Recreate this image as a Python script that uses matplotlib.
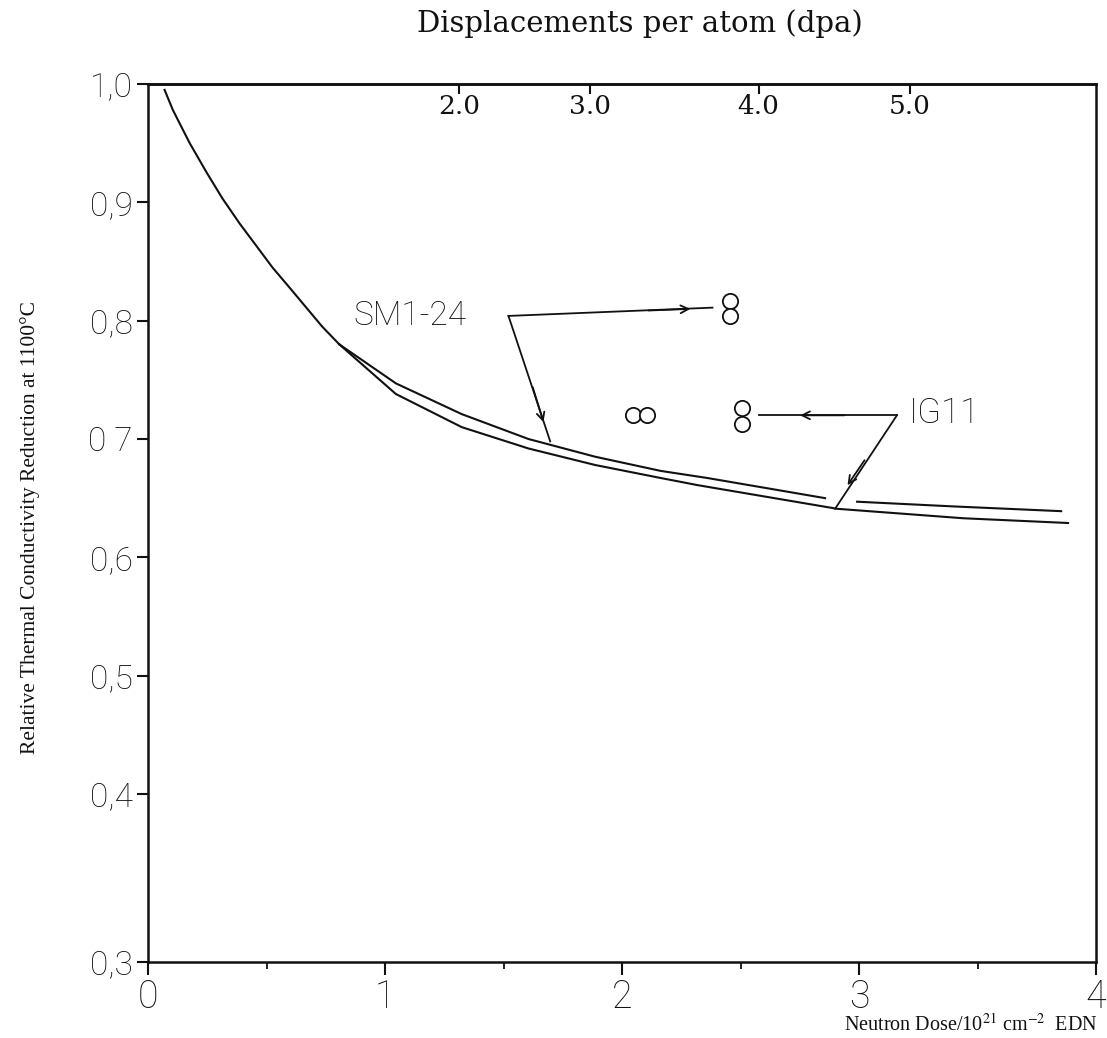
import numpy as np
import matplotlib
matplotlib.use("Agg")
import matplotlib.pyplot as plt

plt.rcParams["mathtext.fontset"] = "stix"

# Gemeinsamer Anfang beider Kurven (Dosis in 1e21 cm^-2, relative Leitfaehigkeit)
common_dose = [0.07, 0.105, 0.176, 0.248, 0.315, 0.387, 0.458, 0.525, 0.597, 0.668, 0.735, 0.807]
common_k = [0.995, 0.978, 0.950, 0.925, 0.903, 0.882, 0.863, 0.845, 0.828, 0.811, 0.795, 0.780]

# SM1-24 (obere Kurve), mit Luecke wo der IG11-Pfeil durchgeht
sm1_dose_a = [0.807, 1.046, 1.324, 1.605, 1.887, 2.164, 2.361, 2.857]
sm1_k_a = [0.780, 0.747, 0.721, 0.700, 0.685, 0.673, 0.667, 0.650]
sm1_dose_b = [2.992, 3.40, 3.853]
sm1_k_b = [0.647, 0.643, 0.639]

# IG11 (untere Kurve)
ig11_dose = [0.807, 1.046, 1.324, 1.605, 1.887, 2.164, 2.319, 2.908, 3.441, 3.882]
ig11_k = [0.780, 0.738, 0.710, 0.692, 0.678, 0.667, 0.661, 0.641, 0.633, 0.629]

# Einzelne Messpunkte (Kreise)
pts_dose = [2.046, 2.105, 2.508, 2.508, 2.454, 2.454]
pts_k = [0.720, 0.720, 0.726, 0.713, 0.817, 0.804]

# Achsenbeschriftungen
y_ticks = [0.3, 0.4, 0.5, 0.6, 0.7, 0.8, 0.9, 1.0]
y_labels = ["0,3", "0,4", "0,5", "0,6", "0 7", "0,8", "0,9", "1,0"]
x_ticks = [0, 1, 2, 3, 4]
dpa_ticks = [2.0, 3.0, 4.0, 5.0]
dpa_at_dose = [1.311, 1.866, 2.576, 3.214]

# Handgezeichnete Skala: 0,3..0,4 ist gestreckt
LOW_STRETCH = 1.42

def y_fwd(y):
    y = np.asarray(y, dtype=float)
    return np.where(y >= 0.4, y, 0.4 - (0.4 - y) * LOW_STRETCH)

def y_inv(v):
    v = np.asarray(v, dtype=float)
    return np.where(v >= 0.4, v, 0.4 - (0.4 - v) / LOW_STRETCH)

map_dose = [0.0] + dpa_at_dose + [4.0]
map_dpa = [0.0] + dpa_ticks + [6.2]

def to_dpa(x):
    return np.interp(x, map_dose, map_dpa)

def to_dose(d):
    return np.interp(d, map_dpa, map_dose)


fig = plt.figure(figsize=(11.07, 10.38), dpi=100)
ax = fig.add_axes([148 / 1107, 76 / 1038, (1096 - 148) / 1107, (962 - 84) / 1038])
ax.set_yscale("function", functions=(y_fwd, y_inv))
ax.set_xlim(0, 4)
ax.set_ylim(0.3, 1.0)

ink = "#111111"
plot_font = dict(family=["Roboto", "DejaVu Sans"], weight="light")

for side in ax.spines:
    ax.spines[side].set_linewidth(1.8)
    ax.spines[side].set_color(ink)

ax.plot(common_dose, common_k, color=ink, lw=1.5)
ax.plot(sm1_dose_a, sm1_k_a, color=ink, lw=1.5)
ax.plot(sm1_dose_b, sm1_k_b, color=ink, lw=1.5)
ax.plot(ig11_dose, ig11_k, color=ink, lw=1.5)
ax.plot(pts_dose, pts_k, ls="none", marker="o", ms=11, mfc="white", mec=ink, mew=1.3)

# Ticks
ax.set_yticks(y_ticks)
ax.set_yticklabels(y_labels, fontsize=24, **plot_font)
ax.set_yticks([], minor=True)
ax.set_xticks(x_ticks)
ax.set_xticklabels([str(t) for t in x_ticks], fontsize=27, **plot_font)
ax.set_xticks([0.5, 1.5, 2.5, 3.5], minor=True)
ax.tick_params(axis="y", which="major", direction="out", length=8, width=1.5, pad=3, colors=ink)
ax.tick_params(axis="x", which="major", direction="out", length=9, width=1.5, pad=3, colors=ink)
ax.tick_params(axis="x", which="minor", direction="out", length=5, width=1.3, colors=ink)

top = ax.secondary_xaxis("top", functions=(to_dpa, to_dose))
top.set_xticks(dpa_ticks)
top.set_xticklabels([f"{d:.1f}" for d in dpa_ticks], fontsize=19, family="DejaVu Serif")
top.tick_params(axis="x", direction="in", length=7, width=1.5, pad=-25, colors=ink)
top.spines["top"].set_linewidth(1.8)

# Beschriftungen
fig.text(640 / 1107, 1 - 24 / 1038, "Displacements per atom (dpa)", ha="center", va="center",
         fontsize=21, family="DejaVu Serif", color=ink)
fig.text(30 / 1107, 1 - 527 / 1038, "Relative Thermal Conductivity Reduction at 1100°C",
         rotation=90, ha="center", va="center", fontsize=15.5, family="Liberation Serif", color=ink)
fig.text(1098 / 1107, 1 - 1025 / 1038, r"Neutron Dose/10$^{21}$ cm$^{-2}$  EDN", ha="right",
         va="center", fontsize=14.5, family="Liberation Serif", color=ink)

# SM1-24 Zuordnung
ax.text(1.105, 0.804, "SM1-24", ha="center", va="center", fontsize=24, color=ink, **plot_font)
ax.plot([1.521, 2.382], [0.804, 0.811], color=ink, lw=1.3)
ax.plot([1.521, 1.697], [0.804, 0.698], color=ink, lw=1.3)
ax.annotate("", xy=(2.30, 0.810), xytext=(2.10, 0.8085),
            arrowprops=dict(arrowstyle="->", color=ink, lw=1.3, mutation_scale=14))
ax.annotate("", xy=(1.672, 0.712), xytext=(1.62, 0.746),
            arrowprops=dict(arrowstyle="->", color=ink, lw=1.3, mutation_scale=14))

# IG11 Zuordnung
ax.text(3.36, 0.722, "IG11", ha="center", va="center", fontsize=25, color=ink, **plot_font)
ax.plot([2.58, 3.16], [0.720, 0.720], color=ink, lw=1.3)
ax.plot([3.16, 2.899], [0.720, 0.641], color=ink, lw=1.3)
ax.annotate("", xy=(2.74, 0.720), xytext=(2.95, 0.720),
            arrowprops=dict(arrowstyle="->", color=ink, lw=1.3, mutation_scale=14))
ax.annotate("", xy=(2.945, 0.659), xytext=(3.03, 0.684),
            arrowprops=dict(arrowstyle="->", color=ink, lw=1.3, mutation_scale=14))

fig.savefig("out.png", dpi=100)
